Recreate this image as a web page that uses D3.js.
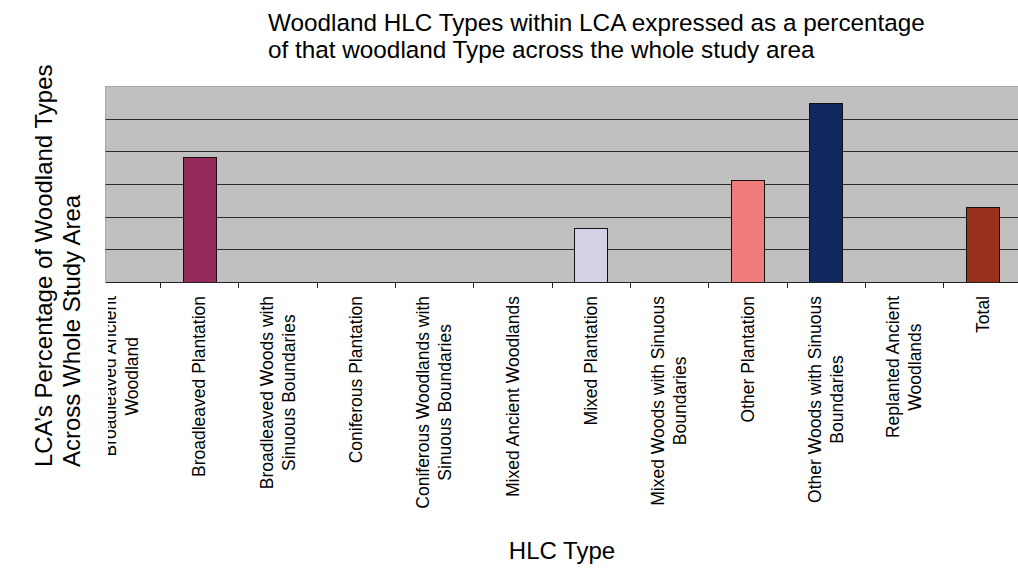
<!DOCTYPE html>
<html>
<head>
<meta charset="utf-8">
<script src="https://cdn.jsdelivr.net/npm/d3@7"></script>
<style>
  html, body { margin: 0; padding: 0; background: #fff; }
  svg { display: block; }
  text { font-family: "Liberation Sans", Arial, sans-serif; fill: #000; }
</style>
</head>
<body>
<svg id="chart" width="1018" height="569"></svg>
<script>
// HLC woodland types (label lines separated by "|")
const categories = [
  "Broadleaved Ancient|Woodland",
  "Broadleaved Plantation",
  "Broadleaved Woods with|Sinuous Boundaries",
  "Coniferous Plantation",
  "Coniferous Woodlands with|Sinuous Boundaries",
  "Mixed Ancient Woodlands",
  "Mixed Plantation",
  "Mixed Woods with Sinuous|Boundaries",
  "Other Plantation",
  "Other Woods with Sinuous|Boundaries",
  "Replanted Ancient|Woodlands",
  "Total"
];
// LCA's share of each woodland type (%)
const values = [0, 19.1, 0, 0, 0, 0, 8.3, 0, 15.6, 27.4, 0, 11.5];
const barColors = ["#962a5b", "#962a5b", "#962a5b", "#962a5b", "#962a5b", "#962a5b",
                   "#d5d2e8", "#d5d2e8", "#ef7b7b", "#10275f", "#98301c", "#98301c"];
const gridTicks = [0, 5, 10, 15, 20, 25, 30];

const titleLines = [
  "Woodland HLC Types within LCA expressed as a percentage",
  "of that woodland Type across the whole study area"
];
const yTitleLines = ["LCA\u2019s Percentage of Woodland Types", "Across Whole Study Area"];
const xTitle = "HLC Type";

const svg = d3.select("#chart");

const plot = { left: 105.5, top: 86, right: 1018, bottom: 282 };

const x = d3.scaleBand()
  .domain(d3.range(categories.length))
  .range([81.6, 1021.6])
  .paddingInner(0.58)
  .paddingOuter(0.29);

const y = d3.scaleLinear().domain([0, 30]).range([plot.bottom, plot.top]);

// plot background
svg.append("rect")
  .attr("x", plot.left).attr("y", plot.top)
  .attr("width", plot.right - plot.left).attr("height", plot.bottom - plot.top)
  .attr("fill", "#c0c0c0");
svg.append("line")
  .attr("x1", plot.left).attr("x2", plot.right)
  .attr("y1", plot.top + 0.5).attr("y2", plot.top + 0.5)
  .attr("stroke", "#a8a8a8");
svg.append("line")
  .attr("x1", plot.left).attr("x2", plot.left)
  .attr("y1", plot.top).attr("y2", plot.bottom)
  .attr("stroke", "#a8a8a8");

// horizontal gridlines
svg.append("g")
  .selectAll("line")
  .data(gridTicks.slice(1, -1))
  .join("line")
  .attr("x1", plot.left).attr("x2", plot.right)
  .attr("y1", d => Math.round(y(d)) + 0.5)
  .attr("y2", d => Math.round(y(d)) + 0.5)
  .attr("stroke", "#2b2b2b")
  .attr("stroke-width", 1);

// bars
svg.append("clipPath").attr("id", "plotClip")
  .append("rect")
  .attr("x", plot.left).attr("y", 0)
  .attr("width", plot.right - plot.left).attr("height", 569);

svg.append("g")
  .attr("clip-path", "url(#plotClip)")
  .selectAll("rect")
  .data(values.map((v, i) => ({ v, i })).filter(d => d.v > 0))
  .join("rect")
  .attr("x", d => Math.round(x(d.i)) + 0.5)
  .attr("y", d => Math.round(y(d.v)) + 0.5)
  .attr("width", Math.round(x.bandwidth()))
  .attr("height", d => Math.round(y(0)) - Math.round(y(d.v)))
  .attr("fill", d => barColors[d.i])
  .attr("stroke", "#111")
  .attr("stroke-width", 1);

// category axis line and ticks
svg.append("line")
  .attr("x1", plot.left).attr("x2", plot.right)
  .attr("y1", plot.bottom + 0.5).attr("y2", plot.bottom + 0.5)
  .attr("stroke", "#222");

const step = x.step();
const boundaries = d3.range(categories.length + 1)
  .map(i => x.range()[0] + i * step)
  .filter(b => b > plot.left + 1 && b < plot.right);
svg.append("g")
  .selectAll("line")
  .data(boundaries)
  .join("line")
  .attr("x1", d => Math.round(d) + 0.5).attr("x2", d => Math.round(d) + 0.5)
  .attr("y1", plot.bottom).attr("y2", plot.bottom + 6)
  .attr("stroke", "#222");

// rotated category labels, top-aligned under the axis, lines centred on each other
svg.append("clipPath").attr("id", "labelClip")
  .append("rect")
  .attr("x", 108).attr("y", plot.bottom)
  .attr("width", 1018 - 108).attr("height", 569 - plot.bottom);

const labelFont = 17.5;
const lineGap = 22;
const labelTop = 296;
const labelG = svg.append("g").attr("clip-path", "url(#labelClip)");

categories.forEach((c, i) => {
  const lines = c.split("|");
  const cx = x(i) + x.bandwidth() / 2;
  const g = labelG.append("g");
  const texts = lines.map(ln => g.append("text")
    .attr("font-size", labelFont)
    .attr("text-anchor", "middle")
    .attr("dy", "0.36em")
    .text(ln));
  const maxW = d3.max(texts, t => t.node().getComputedTextLength());
  texts.forEach((t, j) => {
    const off = (j - (lines.length - 1) / 2) * lineGap;
    t.attr("transform", `translate(${cx + off},${labelTop + maxW / 2}) rotate(-90)`);
  });
});

// chart title
svg.append("g")
  .selectAll("text")
  .data(titleLines)
  .join("text")
  .attr("x", 268)
  .attr("y", (d, i) => 31 + i * 27)
  .attr("font-size", 24.3)
  .text(d => d);

// value axis title
svg.append("g")
  .selectAll("text")
  .data(yTitleLines)
  .join("text")
  .attr("transform", (d, i) => `translate(${52 + i * 28},467) rotate(-90)`)
  .attr("text-anchor", "start")
  .attr("font-size", 24)
  .text(d => d);

// category axis title
svg.append("text")
  .attr("x", 562).attr("y", 559)
  .attr("text-anchor", "middle")
  .attr("font-size", 24)
  .text(xTitle);
</script>
</body>
</html>
